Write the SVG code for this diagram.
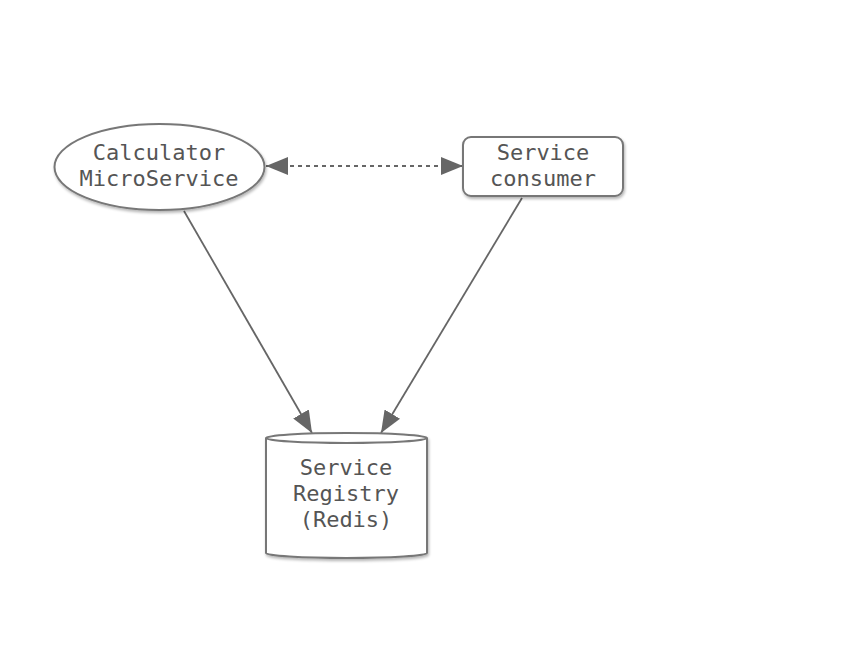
<svg xmlns="http://www.w3.org/2000/svg" width="850" height="659" viewBox="0 0 850 659">
<style>
.shape{fill:#fff;stroke:#777;stroke-width:2}
.lbl{font-family:"DejaVu Sans Mono","Liberation Mono",monospace;font-size:22px;fill:#555;text-anchor:middle}
.edge{stroke:#666;stroke-width:1.8;fill:none}
</style>
<defs>
<filter id="sh" x="-10%" y="-10%" width="130%" height="130%">
<feGaussianBlur in="SourceAlpha" stdDeviation="1.5"/>
<feOffset dx="1" dy="2" result="b"/>
<feComponentTransfer><feFuncA type="linear" slope="0.3"/></feComponentTransfer>
<feMerge><feMergeNode/><feMergeNode in="SourceGraphic"/></feMerge>
</filter>
<marker id="ah" viewBox="0 0 22 18" refX="22" refY="9" markerWidth="22" markerHeight="18" markerUnits="userSpaceOnUse" orient="auto-start-reverse">
<path d="M0,0 L22,9 L0,18 Z" fill="#666"/>
</marker>
</defs>
<rect width="850" height="659" fill="#fff"/>
<g id="connectors">
<line class="edge" x1="266" y1="166" x2="463" y2="166" stroke-dasharray="4,4" marker-start="url(#ah)" marker-end="url(#ah)"/>
<line class="edge" x1="184" y1="211" x2="312" y2="433" marker-end="url(#ah)"/>
<line class="edge" x1="522" y1="198" x2="381" y2="433" marker-end="url(#ah)"/>
</g>
<g id="calculator">
<ellipse class="shape" cx="159.5" cy="167" rx="105" ry="43" filter="url(#sh)"/>
<text class="lbl" x="159" y="160">Calculator</text>
<text class="lbl" x="159" y="186">MicroService</text>
</g>
<g id="consumer">
<rect class="shape" x="463" y="137" width="160" height="59" rx="8" filter="url(#sh)"/>
<text class="lbl" x="543" y="160">Service</text>
<text class="lbl" x="543" y="186">consumer</text>
</g>
<g id="registry">
<path class="shape" d="M266,438 L266,553 A80.5,5 0 0 0 427,553 L427,438 A80.5,5 0 0 0 266,438 Z" filter="url(#sh)"/>
<path class="shape" d="M266,438 A80.5,5 0 0 0 427,438" fill="none"/>
<text class="lbl" x="346" y="475">Service</text>
<text class="lbl" x="346" y="501">Registry</text>
<text class="lbl" x="346" y="527">(Redis)</text>
</g>
</svg>
